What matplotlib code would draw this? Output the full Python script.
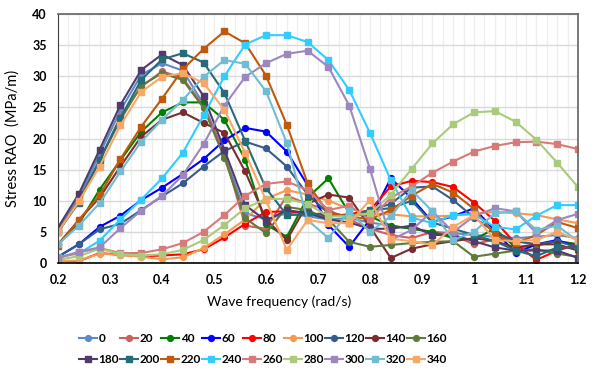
import matplotlib
matplotlib.use('Agg')
import matplotlib.pyplot as plt
from matplotlib.ticker import MultipleLocator

plt.rcParams['font.family'] = ['Lato', 'DejaVu Sans']

freq = [0.20, 0.24, 0.28, 0.32, 0.36, 0.40, 0.44, 0.48, 0.52, 0.56, 0.60, 0.64, 0.68,
        0.72, 0.76, 0.80, 0.84, 0.88, 0.92, 0.96, 1.00, 1.04, 1.08, 1.12, 1.16, 1.20]

headings = ['0', '20', '40', '60', '80', '100', '120', '140', '160',
            '180', '200', '220', '240', '260', '280', '300', '320', '340']

h0 = [5.3, 10.5, 17.5, 24.5, 30.2, 32.1, 30.9, 25.5, 17.5, 8.0, 7.0, 8.0, 7.5, 7.0, 7.2, 6.5, 6.0, 5.5, 5.0, 4.8, 4.5, 4.2, 4.0, 4.2, 4.5, 4.0]
h20 = [5.0, 10.0, 16.5, 23.5, 28.3, 30.8, 29.7, 25.2, 17.5, 6.0, 5.5, 10.8, 9.5, 8.5, 7.0, 5.5, 4.5, 4.0, 5.0, 4.5, 3.0, 3.8, 3.5, 3.0, 3.5, 3.0]
h40 = [3.0, 6.3, 11.8, 16.5, 21.1, 24.2, 25.8, 25.8, 23.0, 16.6, 6.2, 4.2, 10.5, 13.6, 8.0, 7.5, 6.0, 5.5, 5.0, 4.0, 3.8, 5.5, 2.5, 2.8, 3.5, 3.0]
h60 = [1.0, 3.0, 5.8, 7.6, 10.1, 12.1, 14.3, 16.7, 19.7, 21.7, 21.1, 17.9, 12.5, 6.1, 2.6, 7.0, 13.6, 10.4, 6.6, 7.5, 8.8, 5.2, 1.6, 3.0, 3.7, 2.5]
h80 = [0.3, 0.3, 1.6, 1.3, 1.1, 1.2, 1.4, 2.2, 4.1, 6.3, 8.2, 8.3, 8.0, 7.6, 7.8, 8.5, 12.3, 13.2, 13.0, 12.2, 9.7, 6.8, 3.1, 0.5, 2.0, 3.0]
h100 = [0.3, 0.4, 1.5, 1.3, 1.0, 0.6, 0.9, 2.4, 4.6, 7.0, 10.3, 11.7, 11.0, 10.0, 8.7, 8.0, 7.8, 7.5, 7.5, 7.6, 8.0, 8.2, 8.0, 7.7, 7.0, 6.4]
h120 = [1.0, 3.0, 5.4, 6.3, 8.5, 10.7, 12.8, 15.5, 18.0, 19.5, 18.4, 15.5, 11.0, 8.0, 7.5, 8.5, 9.5, 12.1, 12.3, 10.1, 7.3, 5.0, 3.5, 3.0, 3.5, 2.5]
h140 = [3.0, 6.9, 10.5, 15.5, 20.3, 23.0, 24.2, 22.5, 20.9, 14.7, 7.0, 3.7, 9.5, 11.0, 10.5, 5.8, 0.8, 2.3, 3.0, 3.5, 4.0, 3.5, 2.5, 3.0, 3.0, 2.0]
h160 = [5.0, 10.0, 16.5, 23.0, 28.5, 30.5, 29.4, 24.9, 16.9, 7.2, 4.8, 9.0, 8.5, 7.0, 3.4, 2.6, 2.9, 3.2, 3.4, 3.5, 1.0, 1.5, 2.0, 2.2, 1.5, 1.0]
h180 = [5.7, 11.1, 18.2, 25.4, 31.0, 33.5, 31.8, 26.8, 18.2, 9.3, 6.8, 8.5, 8.0, 7.0, 6.5, 5.5, 5.5, 6.0, 4.5, 4.5, 3.5, 2.5, 2.0, 2.0, 2.0, 0.8]
h200 = [5.0, 9.7, 16.5, 23.3, 29.4, 32.7, 33.7, 32.2, 27.3, 19.6, 12.0, 7.7, 7.8, 8.0, 7.5, 8.5, 8.8, 10.0, 6.5, 5.5, 4.5, 3.5, 2.0, 1.1, 2.5, 2.5]
h220 = [2.8, 6.9, 10.9, 16.7, 21.9, 26.4, 31.1, 34.4, 37.2, 35.3, 30.1, 22.2, 12.8, 8.0, 7.5, 7.0, 8.5, 10.8, 12.7, 11.3, 8.7, 4.5, 3.2, 4.5, 6.6, 5.6]
h240 = [1.0, 1.5, 3.6, 7.0, 10.2, 13.6, 17.7, 23.7, 30.0, 35.1, 36.6, 36.6, 35.5, 32.6, 27.8, 20.9, 13.3, 7.3, 6.4, 7.7, 7.8, 5.8, 5.4, 7.6, 9.3, 9.3]
h260 = [0.8, 1.7, 2.4, 1.6, 1.6, 2.2, 3.2, 5.0, 7.7, 10.8, 12.7, 13.1, 11.7, 8.5, 9.2, 7.0, 10.5, 12.3, 14.5, 16.3, 17.9, 18.8, 19.4, 19.5, 19.1, 18.3]
h280 = [0.5, 1.1, 2.3, 1.4, 1.2, 1.4, 2.1, 3.7, 6.1, 8.8, 10.3, 10.3, 9.5, 7.5, 7.5, 8.0, 11.0, 15.1, 19.2, 22.3, 24.2, 24.4, 22.7, 19.8, 16.1, 12.2]
h300 = [0.8, 1.8, 2.5, 5.6, 8.4, 10.8, 14.1, 19.1, 25.3, 29.9, 32.1, 33.6, 34.1, 31.5, 25.3, 15.1, 3.7, 5.3, 8.3, 5.0, 7.5, 8.8, 8.3, 4.8, 6.9, 7.9]
h320 = [3.0, 6.0, 9.6, 14.7, 19.5, 23.0, 26.2, 29.9, 32.6, 32.0, 27.6, 19.3, 6.9, 4.0, 8.3, 5.0, 7.5, 11.7, 8.3, 3.7, 5.0, 8.0, 8.3, 5.3, 6.0, 3.5]
h340 = [5.0, 9.9, 15.5, 22.1, 27.5, 29.9, 30.5, 28.9, 24.6, 17.7, 10.1, 2.1, 6.9, 6.4, 6.4, 10.1, 3.9, 3.5, 2.9, 5.8, 7.7, 3.7, 3.5, 3.7, 5.0, 3.7]

series = [h0, h20, h40, h60, h80, h100, h120, h140, h160,
          h180, h200, h220, h240, h260, h280, h300, h320, h340]

colors = ['#5F8AC9', '#CD5F5C', '#008000', '#0000FF', '#FF0000', '#F79A4E',
          '#355C8C', '#7B2D2D', '#5F7A3A', '#4F3B6E', '#266B78', '#C0590B',
          '#33CCFF', '#D67B78', '#A9CB7B', '#9D87BF', '#72BCD3', '#FAA765']

fig = plt.figure(figsize=(5.95, 3.68), dpi=100)
ax = fig.add_axes([58 / 595, 1 - 263 / 368, 520 / 595, 249 / 368])

handles = []
for i, (name, vals) in enumerate(zip(headings, series)):
    mk = 'o' if i < 9 else 's'
    ms = 4.2 if i < 9 else 4.8
    ln, = ax.plot(freq, vals, color=colors[i], lw=1.5, marker=mk, ms=ms, label=name)
    handles.append(ln)

ax.set_xlim(0.2, 1.2)
ax.set_ylim(0, 40)
ax.xaxis.set_minor_locator(MultipleLocator(0.02))
ax.yaxis.set_major_locator(MultipleLocator(5))
ax.set_xticks([0.2, 0.3, 0.4, 0.5, 0.6, 0.7, 0.8, 0.9, 1.0, 1.1, 1.2])
ax.set_xticklabels(['0.2', '0.3', '0.4', '0.5', '0.6', '0.7', '0.8', '0.9', '1', '1.1', '1.2'])
ax.grid(axis='x', which='both', color='#EEEEEE', lw=0.9)
ax.grid(axis='y', which='major', color='#D9D9D9', lw=1.0)
ax.set_axisbelow(True)
ax.tick_params(axis='both', which='both', length=0)
ax.tick_params(axis='x', pad=8, labelsize=9)
ax.tick_params(axis='y', pad=8, labelsize=9)
for lab in ax.get_xticklabels() + ax.get_yticklabels():
    lab.set_fontweight('bold')

for s in ['top', 'right']:
    ax.spines[s].set_color('#6E6E6E')
    ax.spines[s].set_linewidth(1.3)
ax.spines['left'].set_color('#404040')
ax.spines['bottom'].set_color('black')
ax.spines['bottom'].set_linewidth(1.2)

ax.set_xlabel('Wave frequency (rad/s)', fontsize=10)
ax.xaxis.set_label_coords((279 - 58) / 520, (263 - 295) / 249)
ax.set_ylabel('Stress RAO  (MPa/m)', fontsize=10.5)
ax.yaxis.set_label_coords((20 - 58) / 520, 0.5)

# legend filled column-wise, so interleave the two rows
order = []
for c in range(9):
    order += [c, c + 9]
leg = fig.legend([handles[k] for k in order], [headings[k] for k in order],
                 ncol=9, loc='center', bbox_to_anchor=(263 / 595, 1 - 349 / 368),
                 frameon=False, fontsize=8.5, handlelength=1.5, handletextpad=0.15,
                 columnspacing=0.1, labelspacing=0.85, borderpad=0.1)
for t in leg.get_texts():
    t.set_fontweight('bold')

fig.savefig('out.png', dpi=100)
